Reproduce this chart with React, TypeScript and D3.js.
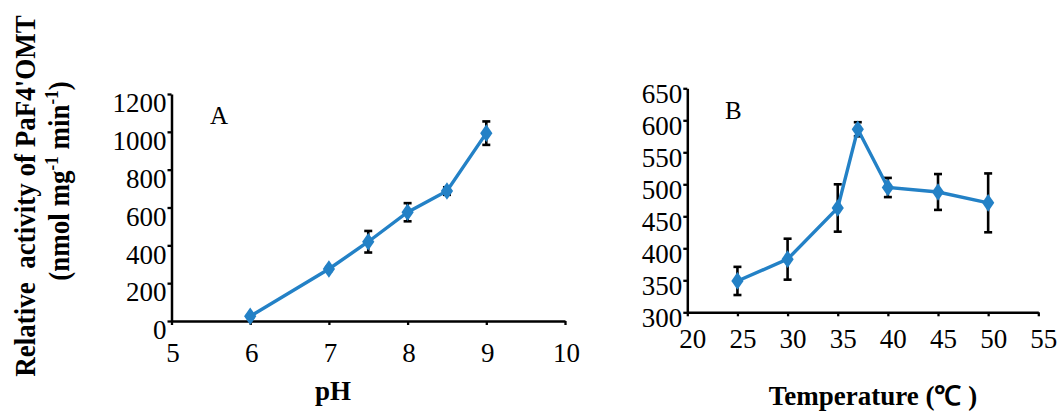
import * as d3 from "d3";
import React, { useEffect, useRef } from "react";

// panel A: activity vs pH
const phValues = [6, 7, 7.5, 8, 8.5, 9];
const phActivity = [25, 275, 419, 575, 687, 993];
const phError = [6, 10, 57, 48, 20, 62];
const phTicksX = [5, 6, 7, 8, 9, 10];
const phTicksY = [0, 200, 400, 600, 800, 1000, 1200];

// panel B: activity vs temperature
const tempValues = [25, 30, 35, 37, 40, 45, 50];
const tempActivity = [349, 383, 463, 586, 495, 488, 471];
const tempError = [22, 32, 37, 11, 15, 28, 46];
const tempTicksX = [20, 25, 30, 35, 40, 45, 50, 55];
const tempTicksY = [300, 350, 400, 450, 500, 550, 600, 650];

const lineColor = "#2381c6";
const serif = "'Liberation Serif', 'Times New Roman', serif";

const App: React.FC = () => {
  const svgRef = useRef<SVGSVGElement>(null);
  const isRender = useRef(false);

  const drawPanel = (svg: any, opts: any) => {
    const { xs, ys, errs, xDomain, yDomain, xRange, yRange, xTicks, yTicks, yDy, xDy, xDx, letter, letterPos } = opts;
    const x = d3.scaleLinear().domain(xDomain).range(xRange);
    const y = d3.scaleLinear().domain(yDomain).range(yRange);
    const g = svg.append("g");

    // axes
    const yAxis = g.append("g")
      .attr("transform", `translate(${xRange[0]},0)`)
      .call(d3.axisLeft(y).tickValues(yTicks).tickSize(4).tickPadding(1).tickSizeOuter(0).tickFormat(d3.format("d")));
    const xAxis = g.append("g")
      .attr("transform", `translate(0,${yRange[0]})`)
      .call(d3.axisBottom(x).tickValues(xTicks).tickSize(4).tickPadding(0).tickSizeOuter(0).tickFormat(d3.format("d")));

    [yAxis, xAxis].forEach((a) => {
      a.attr("font-family", null).attr("font-size", null);
      a.select(".domain").attr("stroke", "#000").attr("stroke-width", 2.5);
      a.selectAll(".tick line").attr("stroke", "#000").attr("stroke-width", 2.3);
      a.selectAll("text")
        .style("font-family", serif)
        .style("font-size", "27px")
        .attr("fill", "#000");
    });
    yAxis.selectAll("text").attr("dy", yDy);
    xAxis.selectAll("text").attr("y", 0).attr("dy", xDy).attr("dx", xDx);

    // error bars
    const eb = g.append("g").attr("stroke", "#000").attr("stroke-width", 2.6);
    xs.forEach((v: number, i: number) => {
      const cx = x(v), top = y(ys[i] + errs[i]), bot = y(ys[i] - errs[i]);
      eb.append("line").attr("x1", cx).attr("x2", cx).attr("y1", top).attr("y2", bot);
      eb.append("line").attr("x1", cx - 4).attr("x2", cx + 4).attr("y1", top).attr("y2", top);
      eb.append("line").attr("x1", cx - 4).attr("x2", cx + 4).attr("y1", bot).attr("y2", bot);
    });

    // data line
    const line = d3.line<number>().x((_, i) => x(xs[i])).y((d) => y(d));
    g.append("path")
      .datum(ys)
      .attr("d", line)
      .attr("fill", "none")
      .attr("stroke", lineColor)
      .attr("stroke-width", 3.4);

    g.selectAll(".mark")
      .data(ys)
      .enter()
      .append("path")
      .attr("class", "mark")
      .attr("d", d3.symbol(d3.symbolDiamond, 90))
      .attr("transform", (d: number, i: number) => `translate(${x(xs[i])},${y(d)}) scale(1.2,1)`)
      .attr("fill", lineColor);

    g.append("text")
      .attr("x", letterPos[0])
      .attr("y", letterPos[1])
      .style("font-family", serif)
      .style("font-size", "25px")
      .text(letter);
  };

  useEffect(() => {
    if (isRender.current || !svgRef.current) return;
    isRender.current = true;
    const svg = d3.select(svgRef.current);

    drawPanel(svg, {
      xs: phValues, ys: phActivity, errs: phError,
      xDomain: [5, 10], yDomain: [0, 1200],
      xRange: [171.5, 565], yRange: [321, 94],
      xTicks: phTicksX, yTicks: phTicksY,
      yDy: "0.66em", xDy: "1.5em", xDx: 1,
      letter: "A", letterPos: [210, 124],
    });

    drawPanel(svg, {
      xs: tempValues, ys: tempActivity, errs: tempError,
      xDomain: [20, 55], yDomain: [300, 650],
      xRange: [687.3, 1038.3], yRange: [312.3, 88.3],
      xTicks: tempTicksX, yTicks: tempTicksY,
      yDy: "0.52em", xDy: "1.32em", xDx: 5,
      letter: "B", letterPos: [725, 119],
    });

    // axis titles
    svg.append("text")
      .attr("x", 333).attr("y", 400)
      .attr("text-anchor", "middle")
      .style("font-family", serif).style("font-size", "27px").style("font-weight", "bold")
      .text("pH");

    svg.append("text")
      .attr("x", 873).attr("y", 405)
      .attr("text-anchor", "middle")
      .attr("xml:space", "preserve")
      .style("font-family", serif).style("font-size", "27px").style("font-weight", "bold")
      .text("Temperature (℃ )");

    const yTitle = svg.append("g")
      .style("font-family", serif).style("font-size", "27px").style("font-weight", "bold");
    yTitle.append("text")
      .attr("transform", "translate(35,196) rotate(-90) scale(1,1.1)")
      .attr("text-anchor", "middle")
      .attr("xml:space", "preserve")
      .text("Relative  activity of PaF4'OMT");
    const t2 = yTitle.append("text")
      .attr("transform", "translate(69,181) rotate(-90) scale(1,1.1)")
      .attr("text-anchor", "middle");
    t2.append("tspan").text("(nmol mg");
    t2.append("tspan").attr("dy", -10).style("font-size", "17px").text("-1");
    t2.append("tspan").attr("dy", 10).text(" min");
    t2.append("tspan").attr("dy", -10).style("font-size", "17px").text("-1");
    t2.append("tspan").attr("dy", 10).text(")");
  }, []);

  return (
    <svg
      ref={svgRef}
      width={1062}
      height={412}
      style={{ position: "absolute", left: 0, top: 0, background: "#fff" }}
    />
  );
};

export default App;
